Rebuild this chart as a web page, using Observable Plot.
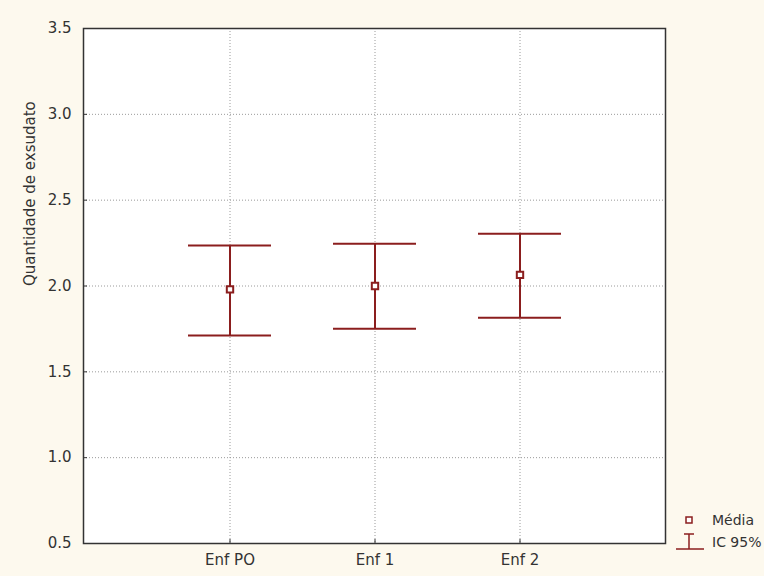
<!DOCTYPE html>
<html>
<head>
<meta charset="utf-8">
<script src="https://cdn.jsdelivr.net/npm/d3@7"></script>
<script src="https://cdn.jsdelivr.net/npm/@observablehq/plot@0.6"></script>
<style>
  html, body { margin: 0; padding: 0; background: #fdf9ee; overflow: hidden; }
  #chart { width: 764px; height: 576px; }
</style>
</head>
<body>
<div id="chart"></div>
<script>
const categories = ["Enf PO", "Enf 1", "Enf 2"];
const means = [1.98, 2.00, 2.065];
const lower = [1.712, 1.751, 1.815];
const upper = [2.236, 2.246, 2.304];
const yTicks = [0.5, 1.0, 1.5, 2.0, 2.5, 3.0, 3.5];
const gridY = [1.0, 1.5, 2.0, 2.5, 3.0];
const yLabel = "Quantidade de exsudato";
const legendLabels = ["Média", "IC 95%"];

const red = "#8b1e1e";
const data = categories.map((c, i) => ({cat: c, mean: means[i], lo: lower[i], hi: upper[i]}));

const chart = Plot.plot({
  width: 764,
  height: 576,
  marginLeft: 83,
  marginRight: 99,
  marginTop: 28,
  marginBottom: 33,
  style: {background: "transparent", fontFamily: "DejaVu Sans", fontSize: "15px", color: "#333", overflow: "visible"},
  x: {type: "band", domain: categories, paddingInner: 0.43, paddingOuter: 0.715, label: null},
  y: {domain: [0.5, 3.5], label: null},
  marks: [
    Plot.frame({fill: "white", stroke: null}),
    Plot.ruleY(gridY, {stroke: "#9a9a9a", strokeDasharray: "1,2", strokeWidth: 1}),
    Plot.ruleX(categories, {x: d => d, stroke: "#9a9a9a", strokeDasharray: "1,2", strokeWidth: 1}),
    Plot.ruleX(data, {x: "cat", y1: "lo", y2: "hi", stroke: red, strokeWidth: 2}),
    Plot.tickY(data, {x: "cat", y: "lo", stroke: red, strokeWidth: 2}),
    Plot.tickY(data, {x: "cat", y: "hi", stroke: red, strokeWidth: 2}),
    Plot.dot(data, {x: "cat", y: "mean", symbol: "square", r: 3.6, fill: "white", stroke: red, strokeWidth: 2}),
    Plot.frame({stroke: "#333", strokeWidth: 1.5}),
    Plot.axisY(yTicks, {tickSize: -4, tickFormat: () => "", stroke: "#333", label: null}),
    Plot.axisY(yTicks, {tickSize: 0, tickPadding: 12, tickFormat: d3.format(".1f"), fill: "#333", label: null}),
    Plot.axisX({tickSize: -4, tickFormat: () => "", stroke: "#333", label: null}),
    Plot.axisX({tickSize: 0, tickPadding: 11, fill: "#333", label: null}),
    Plot.text([yLabel], {frameAnchor: "left", rotate: -90, dx: -53, fill: "#333", fontSize: 15})
  ]
});

document.getElementById("chart").appendChild(chart);

// Legend (outside the plot frame, bottom right)
const svg = d3.select(chart);
const lg = svg.append("g").attr("font-family", "DejaVu Sans").attr("font-size", 14)
  .attr("fill", "#333").attr("text-anchor", "start");
lg.append("rect").attr("x", 686).attr("y", 517).attr("width", 6).attr("height", 6)
  .attr("fill", "white").attr("stroke", red).attr("stroke-width", 1.5);
lg.append("text").attr("x", 712).attr("y", 520).attr("dy", "0.35em").text(legendLabels[0]);
lg.append("line").attr("x1", 689).attr("x2", 689).attr("y1", 534).attr("y2", 549).attr("stroke", red).attr("stroke-width", 1.5);
lg.append("line").attr("x1", 684).attr("x2", 694).attr("y1", 534).attr("y2", 534).attr("stroke", red).attr("stroke-width", 1.5);
lg.append("line").attr("x1", 676).attr("x2", 704).attr("y1", 549).attr("y2", 549).attr("stroke", red).attr("stroke-width", 1.5);
lg.append("text").attr("x", 712).attr("y", 542).attr("dy", "0.35em").text(legendLabels[1]);
</script>
</body>
</html>
